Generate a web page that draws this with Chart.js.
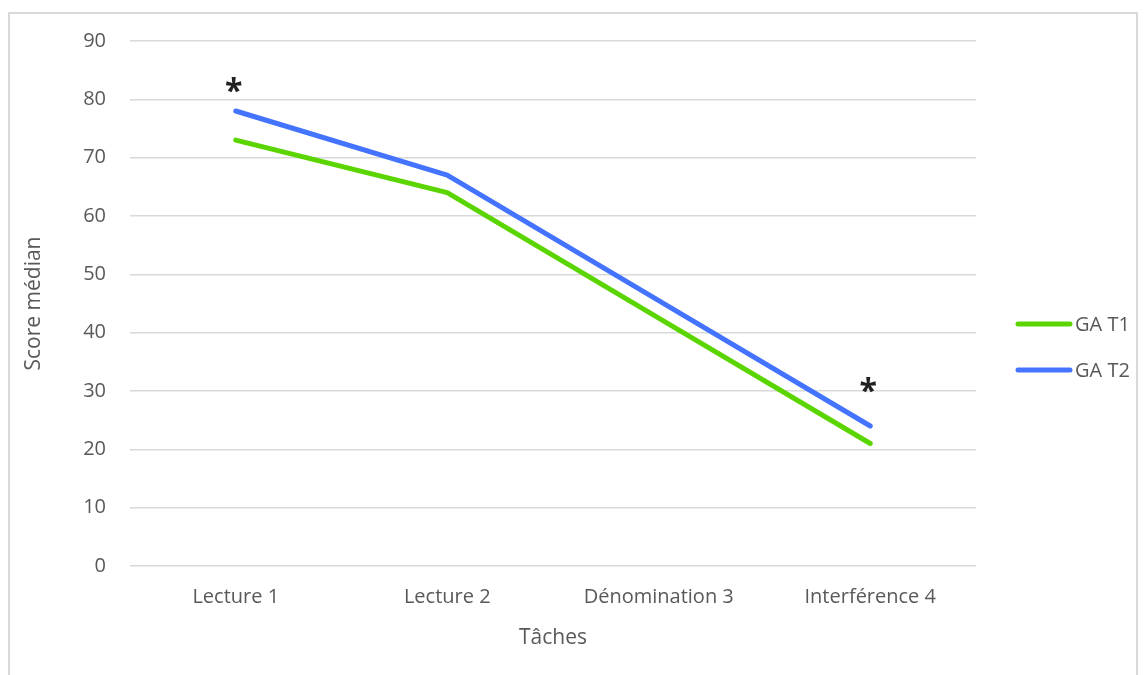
<!DOCTYPE html>
<html>
<head>
<meta charset="utf-8">
<script src="https://cdn.jsdelivr.net/npm/chart.js@4/dist/chart.umd.min.js"></script>
<style>
  html, body { margin: 0; padding: 0; background: #fff; overflow: hidden; }
  #frame {
    position: absolute; left: 8px; top: 12px;
    width: 1126px; height: 700px;
    border: 2px solid #d9d9d9;
  }
  #wrap { position: absolute; left: 0; top: 0; width: 1146px; height: 675px; }
</style>
</head>
<body>
<div id="frame"></div>
<div id="wrap"><canvas id="chart"></canvas></div>
<script>
// Chart data
const categories = ['Lecture 1', 'Lecture 2', 'Dénomination 3', 'Interférence 4'];
const gaT1 = [73, 64, 42.5, 21];
const gaT2 = [78, 67, 45.5, 24];
const seriesLabels = ['GA T1', 'GA T2'];
// significance marks and the height (in score units) where they sit
const sigMarks = ['*', '', '', '*'];
const sigHeights = [82.5, null, null, 31];
const yTicks = [0, 10, 20, 30, 40, 50, 60, 70, 80, 90];

const textColor = '#595959';
const fontFamily = '"Open Sans", sans-serif';

// Legend drawn to the right of the plot, lines + labels
const sideLegend = {
    id: 'sideLegend',
    afterDraw(chart) {
        const { ctx, chartArea } = chart;
        chart.data.datasets.forEach((ds, i) => {
            const y = chartArea.top + 283 + i * 46;
            const x = chartArea.right + 40;
            ctx.save();
            ctx.strokeStyle = ds.borderColor;
            ctx.lineWidth = 5;
            ctx.lineCap = 'round';
            ctx.beginPath();
            ctx.moveTo(x + 2, y);
            ctx.lineTo(x + 54, y);
            ctx.stroke();
            ctx.fillStyle = textColor;
            ctx.font = '20px ' + fontFamily;
            ctx.textBaseline = 'middle';
            ctx.fillText(ds.label, x + 59, y + 1);
            ctx.restore();
        });
    }
};

// Asterisks above the points that differ
const sigPlugin = {
    id: 'sigMarks',
    afterDatasetsDraw(chart) {
        const { ctx, scales } = chart;
        ctx.save();
        ctx.fillStyle = '#222';
        ctx.font = 'bold 32px ' + fontFamily;
        ctx.textAlign = 'center';
        ctx.textBaseline = 'alphabetic';
        sigMarks.forEach((mark, i) => {
            if (!mark) return;
            const m = ctx.measureText(mark);
            const off = (m.actualBoundingBoxAscent - m.actualBoundingBoxDescent) / 2;
            const x = scales.x.getPixelForValue(i) - 2;
            const y = scales.y.getPixelForValue(sigHeights[i]);
            ctx.fillText(mark, x, y + off);
        });
        ctx.restore();
    }
};

const ctx = document.getElementById('chart');
new Chart(ctx, {
    type: 'line',
    data: {
        labels: categories,
        datasets: [
            {
                label: seriesLabels[0],
                data: gaT1,
                borderColor: '#5ad500',
                backgroundColor: '#5ad500',
                borderWidth: 5,
                borderCapStyle: 'round',
                borderJoinStyle: 'round',
                pointRadius: 0,
                tension: 0
            },
            {
                label: seriesLabels[1],
                data: gaT2,
                borderColor: '#4474ff',
                backgroundColor: '#4474ff',
                borderWidth: 5,
                borderCapStyle: 'round',
                borderJoinStyle: 'round',
                pointRadius: 0,
                tension: 0
            }
        ]
    },
    options: {
        responsive: true,
        maintainAspectRatio: false,
        animation: false,
        layout: { padding: { top: 41, right: 170, left: 0, bottom: 0 } },
        plugins: {
            legend: { display: false },
            tooltip: { enabled: false }
        },
        scales: {
            x: {
                offset: true,
                grid: { display: false },
                border: { display: false },
                ticks: {
                    color: textColor,
                    font: { family: fontFamily, size: 20 },
                    padding: 11
                },
                title: {
                    display: true,
                    text: 'Tâches',
                    color: textColor,
                    font: { family: fontFamily, size: 21 },
                    padding: { top: 0, bottom: 24 }
                },
                afterFit(scale) { scale.height = 109; }
            },
            y: {
                min: 0,
                max: 90,
                afterBuildTicks(scale) {
                    scale.ticks = yTicks.map(v => ({ value: v }));
                },
                grid: {
                    color: '#d9d9d9',
                    lineWidth: 1.5,
                    drawTicks: false
                },
                border: { display: false },
                ticks: {
                    color: textColor,
                    font: { family: fontFamily, size: 20 },
                    padding: 24
                },
                title: {
                    display: true,
                    text: 'Score médian',
                    color: textColor,
                    font: { family: fontFamily, size: 21 },
                    padding: { top: 21, bottom: 0 }
                },
                afterFit(scale) { scale.width = 130; }
            }
        }
    },
    plugins: [sideLegend, sigPlugin]
});
</script>
</body>
</html>
